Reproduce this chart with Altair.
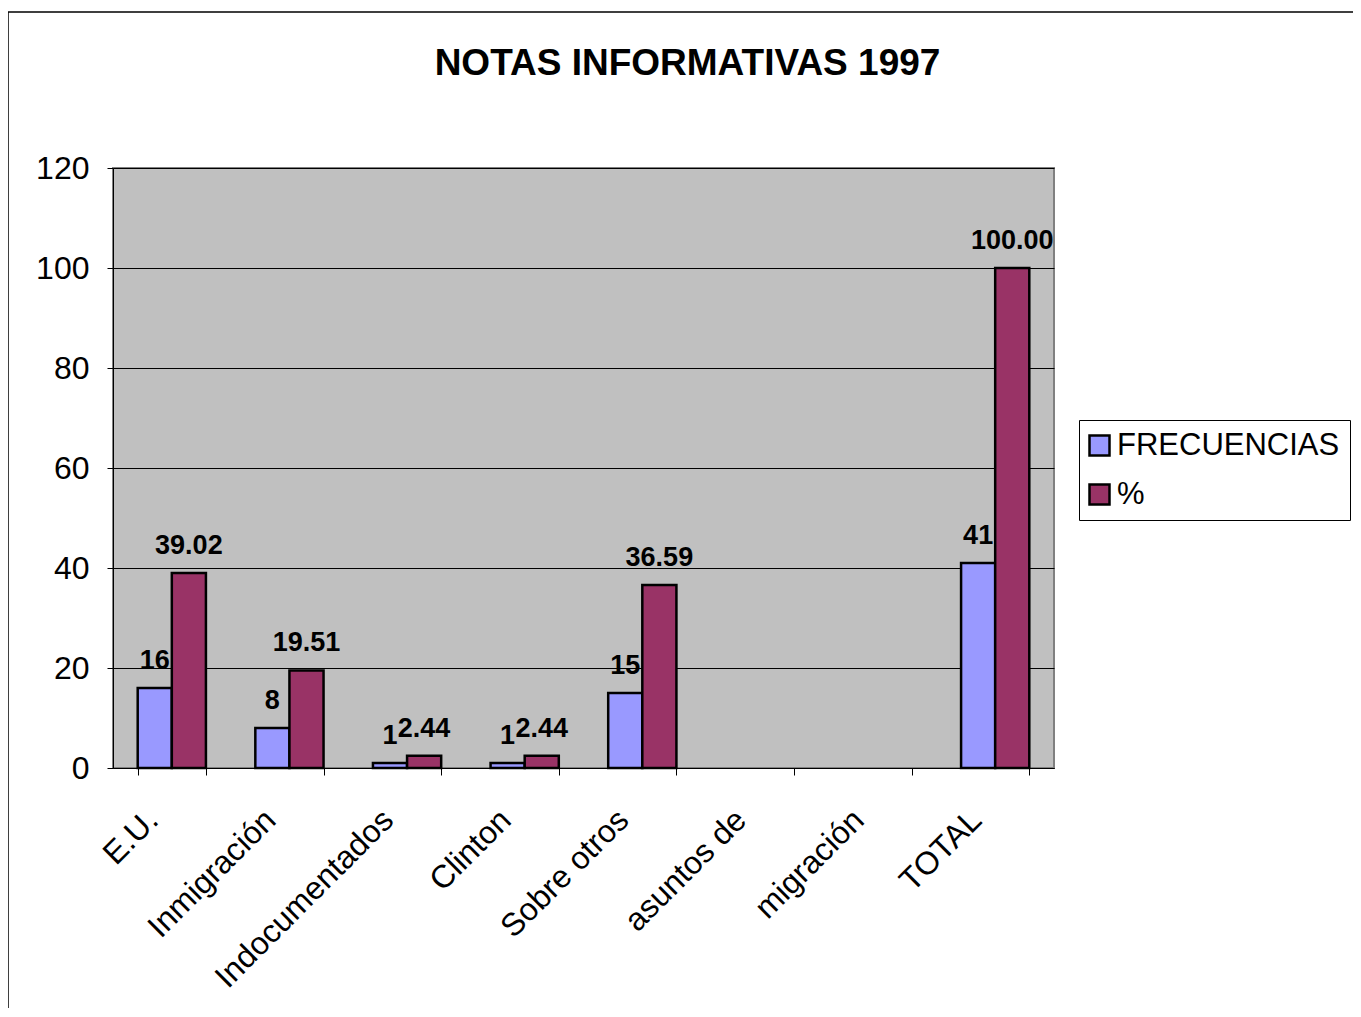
import altair as alt
import pandas as pd

categories = ["E.U.", "Inmigración", "Indocumentados", "Clinton", "Sobre otros",
              "asuntos de", "migración", "TOTAL"]
frecuencias = [16, 8, 1, 1, 15, None, None, 41]
porcentajes = [39.02, 19.51, 2.44, 2.44, 36.59, None, None, 100.00]
series = ["FRECUENCIAS", "%"]
colors = ["#9999FF", "#993366"]

rows = []
for c, f, p in zip(categories, frecuencias, porcentajes):
    rows.append({"cat": c, "serie": "FRECUENCIAS", "val": f,
                 "lbl": "" if f is None else str(int(f))})
    rows.append({"cat": c, "serie": "%", "val": p,
                 "lbl": "" if p is None else f"{p:.2f}"})
df = pd.DataFrame(rows)
df_bars = df.dropna(subset=["val"])

FONT = "Liberation Sans"

x_scale = alt.Scale(domain=categories, paddingInner=0.42, paddingOuter=0.21)
x_enc = alt.X("cat:N", sort=categories, scale=x_scale,
              axis=alt.Axis(title=None, labelAngle=-45, labelFontSize=32, labelFont=FONT,
                            labelColor="black", tickBand="extent", tickColor="black",
                            tickSize=7, domainColor="black", labelPadding=29,
                            labelOffset=-30, labelLimit=400))
y_scale = alt.Scale(domain=[0, 120])

bars = alt.Chart(df_bars).mark_bar(stroke="black", strokeWidth=2.5).encode(
    x=x_enc,
    xOffset=alt.XOffset("serie:N", sort=series),
    y=alt.Y("val:Q", scale=y_scale,
            axis=alt.Axis(title=None, values=[0, 20, 40, 60, 80, 100, 120],
                          labelFontSize=32, labelFont=FONT, labelColor="black",
                          tickColor="black", tickSize=6, labelPadding=18,
                          domainColor="black", gridColor="black", gridWidth=1)),
    color=alt.Color("serie:N", sort=series,
                    scale=alt.Scale(domain=series, range=colors),
                    legend=alt.Legend(title=None, orient="none", legendX=966, legendY=252,
                                      labelFontSize=31, labelFont=FONT, labelColor="black",
                                      symbolType="square", symbolSize=400,
                                      symbolStrokeColor="black", symbolStrokeWidth=2.5,
                                      symbolOpacity=1, symbolOffset=-5,
                                      rowPadding=17, padding=10,
                                      strokeColor="black", fillColor="white",
                                      labelOffset=2, labelLimit=400)),
)

labels = alt.Chart(df_bars).mark_text(baseline="bottom", dy=-13, fontSize=27,
                                      fontWeight="bold", font=FONT, color="black").encode(
    x=alt.X("cat:N", sort=categories, scale=x_scale),
    xOffset=alt.XOffset("serie:N", sort=series),
    y=alt.Y("val:Q", scale=y_scale),
    text="lbl:N",
)

frame = alt.Chart(pd.DataFrame({"k": [0]})).mark_rect(
    fill=None, stroke="black", strokeWidth=1.5, clip=False).encode(
    x=alt.value(-105), y=alt.value(-156), x2=alt.value(1300), y2=alt.value(900))

chart = alt.layer(frame, bars, labels).properties(
    width=941, height=600,
    title=alt.TitleParams("NOTAS INFORMATIVAS 1997", fontSize=37, font=FONT,
                          fontWeight="bold", color="black", anchor="middle",
                          frame="group", dx=104, offset=-72),
    autosize=alt.AutoSizeParams(type="none"),
    padding={"left": 105, "top": 160, "right": 299, "bottom": 240},
).configure_view(fill="#C0C0C0", stroke="#808080", strokeWidth=2
).configure_axisX(grid=False).configure_axisY(grid=True)

chart.save("out.html", embed_options={"renderer": "svg", "actions": False})
